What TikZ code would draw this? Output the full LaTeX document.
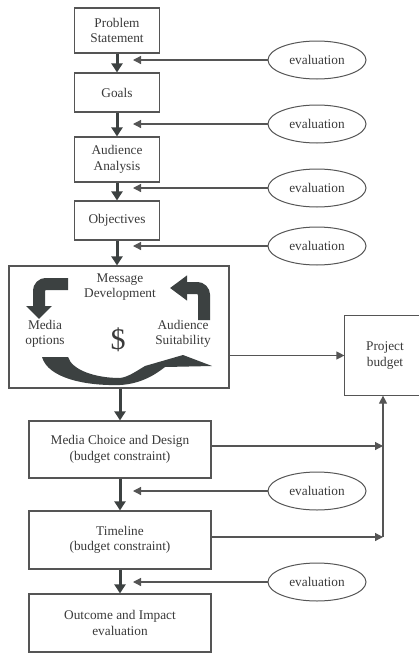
\documentclass[tikz,border=0pt]{standalone}
\usepackage{fontspec}
\setmainfont{Liberation Serif}
\usetikzlibrary{shapes.geometric,arrows.meta}
\definecolor{ln}{HTML}{555555}
\definecolor{tx}{HTML}{3A3A3A}
\definecolor{dk}{HTML}{3C4141}
\begin{document}
\begin{tikzpicture}[x=1pt,y=-1pt,
  txt/.style={text=tx,font=\fontsize{13.3}{15.5}\selectfont},
  box/.style={txt,draw=ln,line width=1.2pt,fill=white,align=center,inner sep=0pt},
  evalnode/.style={txt,ellipse,draw=ln,line width=1pt,minimum width=98pt,minimum height=38pt,inner sep=0pt},
  flow/.style={draw=dk,line width=3pt,-{Triangle[length=9pt,width=11pt]}},
  thinarrow/.style={draw=ln,line width=1.2pt,-{Triangle[length=8pt,width=8pt]}},
  lbl/.style={txt,align=center,inner sep=0pt},
  elbow/.style={draw=dk,line width=12pt,rounded corners=7pt},
]
\useasboundingbox (0,0) rectangle (419,667);

% main boxes
\node[box,minimum width=85pt,minimum height=45pt] (ps) at (117,30.5) {Problem\\Statement};
\node[box,minimum width=85pt,minimum height=39pt] (goals) at (117,92.5) {Goals};
\node[box,minimum width=85pt,minimum height=45pt] (aa) at (117,159.5) {Audience\\Analysis};
\node[box,minimum width=85pt,minimum height=39pt] (obj) at (117,220.5) {Objectives};
\node[box,minimum width=220pt,minimum height=122pt] (msg) at (119,327) {};
\node[box,minimum width=182pt,minimum height=57pt] (mc) at (120,449.5) {Media Choice and Design\\(budget constraint)};
\node[box,minimum width=182pt,minimum height=58pt] (tl) at (120,540) {Timeline\\(budget constraint)};
\node[box,minimum width=182pt,minimum height=58pt] (oc) at (120,623) {Outcome and Impact\\evaluation};
\node[box,draw=none,minimum width=80pt,minimum height=79pt] (pb) at (385,355.5) {Project\\budget};
\draw[ln,line width=1.2pt] (pb.north east) -- (pb.north west) -- (pb.south west) -- (pb.south east);

% message box contents
\node[lbl] (md) at (120,287) {Message\\Development};
\node[lbl] (mo) at (45,334) {Media\\options};
\node[lbl] (as) at (183,334) {Audience\\Suitability};
\node[txt,inner sep=0pt,font=\fontsize{30}{30}\selectfont] (dl) at (118,340) {\$};

\draw[elbow,-{Triangle[length=13pt,width=25pt]}] (68,284) -- (39,284) -- (39,319);
\draw[elbow,-{Triangle[length=17pt,width=24pt]}] (204,320) -- (204,288) -- (170,288);
\fill[dk] (42,357) .. controls (48,378) and (85,386) .. (120,385)
  .. controls (140,384) and (155,375) .. (165,367) -- (212,366) -- (183,355) -- (145,366)
  .. controls (135,372) and (128,377) .. (120,378)
  .. controls (95,378) and (72,370) .. (68,357) -- cycle;

% evaluations
\node[evalnode] (e1) at (317,60) {evaluation};
\node[evalnode] (e2) at (317,124) {evaluation};
\node[evalnode] (e3) at (317,188) {evaluation};
\node[evalnode] (e4) at (317,246) {evaluation};
\node[evalnode] (e5) at (317,491) {evaluation};
\node[evalnode] (e6) at (317,582) {evaluation};
\coordinate (t1) at (133,60);
\coordinate (t2) at (133,124);
\coordinate (t3) at (133,188);
\coordinate (t4) at (133,246);
\coordinate (t5) at (133,491);
\coordinate (t6) at (133,582);
\foreach \i in {1,...,6} {\draw[thinarrow] (e\i.west) -- (t\i);}

% flow arrows
\draw[flow] (ps.south) -- (goals.north);
\draw[flow] (goals.south) -- (aa.north);
\draw[flow] (aa.south) -- (obj.north);
\draw[flow] (obj.south) -- (obj.south |- msg.north);
\draw[flow] (mc.north |- msg.south) -- (mc.north);
\draw[flow] (mc.south) -- (tl.north);
\draw[flow] (tl.south) -- (oc.north);

% budget connections
\coordinate (j1) at (383,446);
\coordinate (j2) at (383,537);
\draw[thinarrow] (pb.west -| msg.east) -- (pb.west);
\draw[thinarrow] (j1 -| mc.east) -- (j1);
\draw[thinarrow] (j2 -| tl.east) -- (j2);
\draw[thinarrow] (j2) -- (j2 |- pb.south);
\end{tikzpicture}
\end{document}
